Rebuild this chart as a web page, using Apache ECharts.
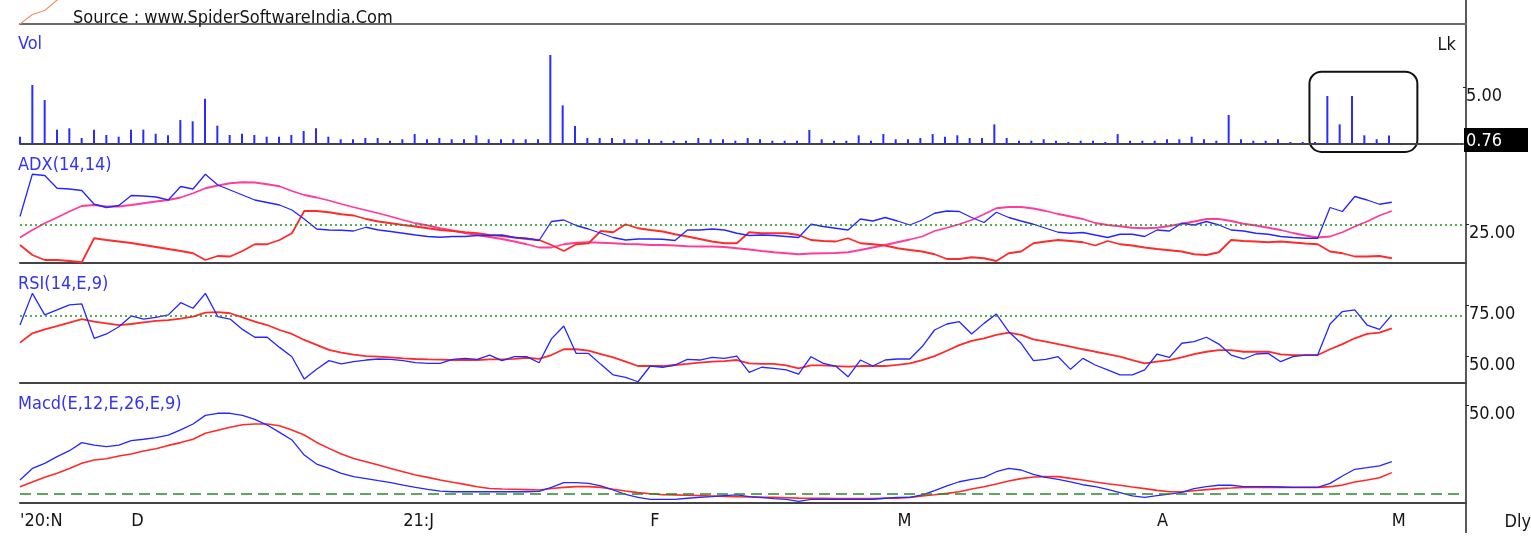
<!DOCTYPE html>
<html><head><meta charset="utf-8">
<script src="https://cdn.jsdelivr.net/npm/echarts@6/dist/echarts.min.js"></script>
<style>html,body{margin:0;padding:0;background:#fff}#c{width:1531px;height:539px}</style>
</head><body><div id="c"></div>
<script>
// ---- data (trading days, index 0 = first bar) ----
const monthLabels = {0:"'20:N", 9:"D", 31:"21:J", 51:"F", 71:"M", 92:"A", 111:"M"};
const slotCount = 118; // 112 trading days + empty right margin slots

const vol = [
0.65,5.22,3.89,1.27,1.39,0.53,1.27,0.80,0.65,1.27,
1.27,0.91,0.77,2.12,2.01,4.01,1.62,0.80,0.91,0.80,
0.65,0.65,0.80,1.15,1.39,0.65,0.42,0.42,0.53,0.53,
0.29,0.42,0.88,0.42,0.53,0.42,0.42,0.77,0.42,0.42,
0.42,0.42,0.42,7.88,3.42,1.59,0.53,0.53,0.53,0.42,
0.42,0.42,0.29,0.29,0.29,0.53,0.42,0.42,0.29,0.53,
0.42,0.29,0.29,0.29,1.24,0.42,0.29,0.29,0.77,0.29,
0.88,0.42,0.42,0.53,0.88,0.65,0.77,0.53,0.53,1.74,
0.53,0.29,0.29,0.42,0.29,0.18,0.29,0.29,0.18,0.88,
0.29,0.29,0.29,0.42,0.42,0.65,0.42,0.29,2.57,0.42,
0.29,0.29,0.42,0.18,0.18,0.18,4.25,1.74,4.25,0.77,
0.42,0.76];

const diPlus = [
28.1,45.0,44.5,39.4,39.1,38.5,33.0,31.7,32.5,36.5,
36.3,35.9,34.7,40.1,39.1,45.0,40.7,38.7,36.7,34.7,
33.7,32.7,30.7,27.1,23.1,22.7,22.6,22.3,23.8,22.7,
22.1,21.4,20.7,20.1,19.8,20.1,20.1,20.5,20.5,20.7,
19.7,19.4,18.5,26.1,26.7,24.5,23.1,21.4,19.7,18.7,
19.1,19.1,19.0,18.5,22.7,22.7,23.1,22.7,21.4,20.5,
20.7,20.5,20.1,19.7,25.0,24.1,23.4,22.7,27.1,26.3,
27.7,26.3,24.7,26.7,29.4,30.3,30.1,27.7,25.7,29.8,
27.7,26.3,25.0,23.4,21.8,21.4,21.7,20.7,19.7,21.0,
21.0,20.1,22.7,22.3,25.4,24.7,26.1,24.7,22.7,22.3,
21.4,21.0,20.1,19.7,19.4,19.4,31.7,30.1,36.1,34.7,
33.0,33.8];

const diMinus = [
16.7,12.7,10.7,10.7,10.3,9.8,19.4,18.7,18.1,17.5,
16.7,15.9,15.1,14.3,13.4,10.7,12.3,12.1,14.3,17.0,
17.0,18.7,21.4,30.3,30.3,29.8,29.0,28.5,27.1,26.1,
25.4,24.7,24.1,23.4,22.7,22.3,21.8,21.4,20.7,20.3,
19.7,19.1,18.7,16.7,14.3,17.0,17.4,22.3,21.8,25.0,
23.4,22.7,22.1,21.0,20.1,19.1,18.1,17.4,17.4,21.8,
21.4,21.4,21.4,20.7,18.7,18.3,18.1,19.4,17.4,17.0,
16.5,15.4,14.7,14.1,13.0,11.1,11.1,11.8,11.4,10.3,
13.4,14.1,17.4,18.1,18.7,18.3,17.8,16.5,18.3,17.0,
16.5,15.7,15.1,14.6,14.1,13.0,12.7,13.8,18.7,18.3,
18.1,17.8,18.1,17.7,17.3,17.0,14.1,13.4,12.1,12.1,
12.3,11.4];

const adx = [
19.7,22.7,25.4,27.7,30.1,32.3,32.7,32.1,32.1,32.7,
33.4,34.1,34.7,35.7,37.4,39.4,40.5,41.4,41.8,41.7,
41.0,40.2,38.3,36.7,35.7,34.5,33.1,31.8,30.6,29.4,
28.1,26.7,25.4,24.5,23.4,22.5,21.5,20.7,19.9,19.1,
18.1,17.0,15.7,15.7,17.0,17.6,17.8,17.6,17.4,17.1,
17.0,16.7,16.7,16.5,16.2,16.1,16.1,15.9,15.4,14.9,
14.3,13.8,13.4,13.0,13.3,13.4,13.5,13.8,14.7,15.7,
16.7,17.8,18.9,20.1,22.3,23.6,25.0,26.7,29.0,31.4,
31.9,31.9,31.3,30.3,29.1,28.1,27.1,25.5,24.7,24.2,
23.6,23.4,23.6,24.3,25.2,26.1,27.1,27.1,26.3,25.2,
24.5,23.6,22.7,21.5,20.5,19.7,20.1,21.8,24.1,26.1,
28.5,30.3];

const rsi = [
65.3,80.6,70.2,72.6,75.0,75.5,58.9,61.0,64.5,69.7,
68.2,69.0,70.2,76.1,73.4,80.6,69.4,68.2,63.2,59.4,
59.4,54.5,50.0,39.2,43.9,48.1,46.5,47.6,48.4,48.9,
48.7,48.1,47.1,46.8,46.8,48.7,49.2,48.7,50.8,48.1,
50.0,50.0,47.1,58.6,64.8,51.6,51.6,46.3,41.2,40.0,
37.9,45.5,44.9,46.0,48.7,48.4,49.7,49.2,50.3,42.4,
44.9,44.4,43.6,41.6,50.0,46.8,45.5,40.3,48.4,45.5,
48.4,48.9,48.9,54.9,62.9,65.8,66.9,61.0,66.1,70.6,
62.1,56.5,48.1,48.7,50.0,43.9,49.2,46.0,43.6,41.2,
41.2,43.6,51.3,49.7,56.5,57.3,59.4,56.1,50.8,48.9,
51.3,51.6,47.6,50.0,50.8,50.8,65.8,71.8,72.6,65.3,
63.2,70.2];

const rsiSignal = [
56.8,61.3,63.2,64.8,66.5,68.2,66.9,66.1,65.3,65.8,
66.6,67.3,67.7,68.4,69.4,71.3,71.5,71.0,69.0,66.9,
65.3,62.9,61.0,58.1,55.7,53.3,52.0,51.0,50.3,50.0,
49.7,49.2,48.9,48.7,48.6,48.4,48.4,48.4,48.7,48.7,
49.0,49.5,49.0,50.8,53.6,53.6,52.9,51.3,49.7,47.6,
45.5,45.5,45.5,46.0,46.5,47.1,47.6,47.9,48.4,46.8,
46.5,46.5,45.8,44.4,45.8,45.8,45.5,45.2,45.5,45.5,
45.5,46.1,46.8,48.4,50.3,52.9,55.6,57.6,58.9,60.5,
61.6,60.5,58.4,57.3,56.1,54.9,53.6,52.4,51.3,50.0,
48.4,46.8,47.6,48.4,49.7,51.3,52.4,53.2,53.2,52.4,
52.4,52.4,51.1,50.8,50.8,50.8,53.6,56.1,58.9,61.0,
61.6,63.7];

const macd = [
7.6,14.2,17.1,20.9,24.3,28.9,27.5,26.6,27.5,30.0,
30.8,31.7,33.2,36.1,39.5,44.4,45.6,45.6,44.4,42.1,
38.9,34.7,30.4,21.8,16.7,14.2,11.4,9.5,8.4,7.2,
6.1,4.7,3.4,2.3,1.3,0.9,0.9,0.9,0.9,0.9,
0.9,0.9,1.1,3.4,6.1,6.1,5.7,4.2,1.9,-0.6,
-2.3,-3.4,-3.4,-3.4,-2.8,-2.3,-1.9,-1.3,-0.9,-1.9,
-2.3,-3.0,-3.4,-4.6,-3.4,-3.4,-3.4,-3.4,-3.4,-3.4,
-2.8,-2.3,-2.3,-0.9,1.5,4.2,6.6,8.0,9.1,12.3,
14.2,13.3,10.8,9.1,8.0,6.5,4.9,3.8,2.3,0.4,
-1.5,-2.3,-1.3,-0.4,0.6,2.7,3.8,4.6,4.6,3.8,
3.8,3.8,3.6,3.4,3.4,3.4,5.7,9.9,13.7,14.6,
15.6,18.0];

const macdSignal = [
3.8,6.5,9.1,11.4,14.2,17.1,19.0,19.7,21.3,22.4,
24.1,25.4,27.3,28.9,30.8,34.2,35.9,37.6,39.1,39.5,
39.5,38.5,36.1,33.2,29.0,25.6,22.4,19.9,18.0,16.1,
14.2,12.3,10.4,9.1,7.6,6.3,5.1,3.8,2.8,2.5,
2.3,2.1,1.9,2.8,3.4,3.8,3.8,3.4,2.3,1.3,
0.4,-0.2,-0.8,-0.9,-1.1,-1.3,-1.5,-1.7,-1.9,-2.1,
-2.3,-2.3,-2.5,-2.7,-2.8,-2.8,-3.0,-3.0,-3.0,-3.0,
-2.8,-2.7,-2.3,-1.5,-0.8,0.0,0.9,2.5,3.8,5.3,
7.0,8.4,9.3,9.5,9.5,8.5,7.6,6.5,5.5,4.6,
3.6,2.7,1.7,0.9,0.9,1.5,2.1,2.7,3.0,3.4,
3.4,3.4,3.4,3.4,3.4,3.4,3.8,4.7,6.5,7.6,
8.9,11.8];

// tail of the price line of the (cropped) panel above
const priceTail = [0, 9.5, 13.5, 24, 34];

const adxLevel = 25, rsiLevel = 70, macdLevel = 0;
const volTicks = [5], adxTicks = [25], rsiTicks = [50, 75], macdTicks = [50];

// ---- chart ----
const FONT = 'DejaVu Sans Condensed';
const BLUE = '#2626ff', RED = '#ff2a2a', PINK = '#ff3c9c', GREEN = '#1e961e';
const TXT = '#151515';
const cats = Array.from({length: slotCount}, (_, i) => String(i));
const lastVol = vol[vol.length - 1];

const chart = echarts.init(document.getElementById('c'), null, {renderer: 'canvas'});

const gridDefs = [
  {top: 24, height: 120},   // Vol
  {top: 146, height: 117},  // ADX
  {top: 265, height: 118},  // RSI
  {top: 385, height: 118},  // MACD
  {top: 0, height: 24}      // price tail
];
const grids = gridDefs.map(g => ({left: 20, right: 65, top: g.top, height: g.height}));

const xAxes = gridDefs.map((g, i) => ({
  type: 'category', gridIndex: i, data: cats, boundaryGap: false,
  axisLine: {show: true, onZero: false, lineStyle: {color: i === 4 ? '#6a6a6a' : '#444', width: 2}},
  axisTick: {show: false}, splitLine: {show: false},
  axisLabel: i === 3 ? {
    show: true, interval: (idx) => monthLabels[idx] !== undefined,
    formatter: (v, idx) => monthLabels[idx] !== undefined ? monthLabels[idx] : '',
    align: 'left', margin: 9, color: TXT, fontFamily: FONT, fontSize: 18
  } : {show: false}
}));

function yAxisDef(grid, min, max, ticks, fmt) {
  return {
    type: 'value', gridIndex: grid, position: 'right', min: min, max: max,
    axisLine: {show: false}, splitLine: {show: false},
    axisTick: {show: true, customValues: ticks, length: 3, lineStyle: {color: '#222'}},
    axisLabel: {show: true, customValues: ticks, margin: 3, align: 'left', verticalAlign: 'top',
      color: TXT, fontFamily: FONT, fontSize: 18, formatter: fmt || (v => v.toFixed(2))}
  };
}
const yAxes = [
  yAxisDef(0, 0, 10.62, volTicks),
  yAxisDef(1, 9.5, 56.3, adxTicks),
  yAxisDef(2, 37.3, 94.3, rsiTicks),
  yAxisDef(3, -5.5, 61.7, macdTicks),
  {type: 'value', gridIndex: 4, min: 0, max: 24, show: false},
  { // last-volume marker box
    type: 'value', gridIndex: 0, position: 'right', min: 0, max: 10.62,
    axisLine: {show: false}, splitLine: {show: false}, axisTick: {show: false},
    axisLabel: {show: true, customValues: [lastVol], margin: 1, align: 'left', verticalAlign: 'middle',
      formatter: v => '{s|}\n{b|' + v.toFixed(2) + '}',
      rich: {
        s: {height: 9, width: 61},
        b: {backgroundColor: '#000', color: '#fff', fontFamily: FONT, fontSize: 18,
            width: 62, height: 20, padding: [3, 0, 1, 2], align: 'left'}}}
  }
];

function lineS(x, y, data, color, width, extra) {
  return Object.assign({
    type: 'line', xAxisIndex: x, yAxisIndex: y, data: data, symbol: 'none', showSymbol: false,
    lineStyle: {color: color, width: width}, itemStyle: {color: color}, silent: true, z: 3
  }, extra || {});
}
function levelLine(val, dash, w, c) {
  return {silent: true, symbol: ['none', 'none'], label: {show: false}, animation: false,
    lineStyle: {color: c || GREEN, type: dash, width: w}, data: [{yAxis: val}]};
}

const titleStyle = (c, s) => ({color: c, fontFamily: FONT, fontSize: s, fontWeight: 'normal'});
const option = {
  animation: false,
  backgroundColor: '#fff',
  grid: grids, xAxis: xAxes, yAxis: yAxes,
  title: [
    {text: 'Source : www.SpiderSoftwareIndia.Com', left: 68, top: 4, textStyle: titleStyle(TXT, 18)},
    {text: 'Vol', left: 13, top: 30, textStyle: titleStyle('#3434f0', 18)},
    {text: 'ADX(14,14)', left: 13, top: 151, textStyle: titleStyle('#3434f0', 18)},
    {text: 'RSI(14,E,9)', left: 13, top: 270, textStyle: titleStyle('#3434f0', 18)},
    {text: 'Macd(E,12,E,26,E,9)', left: 13, top: 390, textStyle: titleStyle('#3434f0', 18)},
    {text: 'Lk', right: 70, top: 31, textStyle: titleStyle(TXT, 18)},
    {text: 'Dly', right: 0, top: 513, padding: 0, textStyle: titleStyle(TXT, 18)}
  ],
  series: [
    {type: 'bar', xAxisIndex: 0, yAxisIndex: 0, data: vol, barWidth: 2, silent: true,
     itemStyle: {color: '#2b2bff'}},
    lineS(1, 1, adx, PINK, 1.8, {markLine: levelLine(adxLevel, [2, 3], 1.6)}),
    lineS(1, 1, diMinus, RED, 1.8),
    lineS(1, 1, diPlus, BLUE, 1.3),
    lineS(2, 2, rsiSignal, RED, 1.8, {markLine: levelLine(rsiLevel, [2, 3], 1.6)}),
    lineS(2, 2, rsi, BLUE, 1.3),
    lineS(3, 3, macdSignal, RED, 1.6, {markLine: levelLine(macdLevel, [11, 6], 1.6, '#2a8a2a')}),
    lineS(3, 3, macd, BLUE, 1.3),
    lineS(4, 4, priceTail, '#f0946a', 1.2)
  ]
};
chart.setOption(option);

// decorations: right scale line and highlight box around the last volume spikes
const p0 = chart.convertToPixel({xAxisIndex: 0, yAxisIndex: 0}, [105, 0]);
const p1 = chart.convertToPixel({xAxisIndex: 0, yAxisIndex: 0}, [106, 0]);
const step = p1[0] - p0[0];
const pTop = chart.convertToPixel({xAxisIndex: 0, yAxisIndex: 0}, [106, 6.4]);
const pBot = chart.convertToPixel({xAxisIndex: 0, yAxisIndex: 0}, [106, -0.7]);
const pEnd = chart.convertToPixel({xAxisIndex: 3, yAxisIndex: 3}, [slotCount - 1, 0]);
const boxLeft = p1[0] - 1.45 * step, boxRight = p1[0] + 7.3 * step;
chart.setOption({
  graphic: [
    {type: 'line', silent: true, shape: {x1: pEnd[0], y1: 0, x2: pEnd[0], y2: 533},
     style: {stroke: '#222', lineWidth: 1.5}},
    {type: 'rect', silent: true, shape: {x: boxLeft, y: pTop[1], width: boxRight - boxLeft,
       height: pBot[1] - pTop[1], r: 12}, style: {fill: 'none', stroke: '#111', lineWidth: 2}}
  ]
});
</script>
</body></html>
